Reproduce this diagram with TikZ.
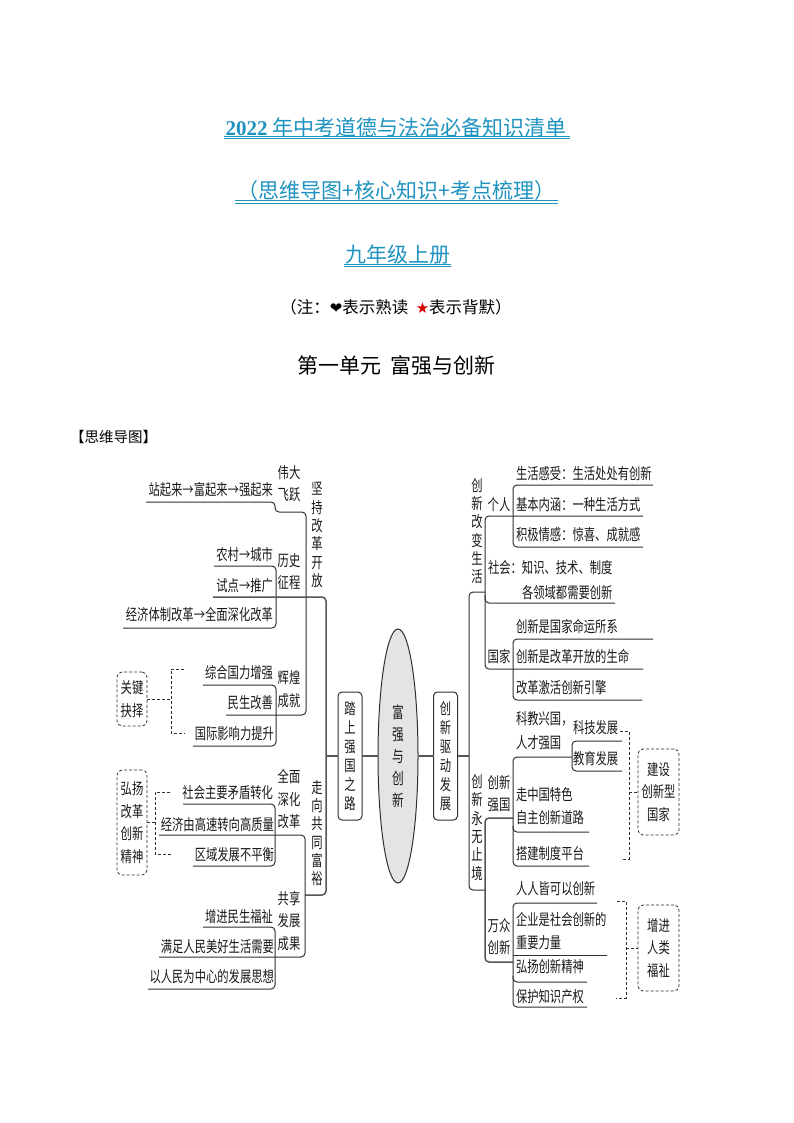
\documentclass[tikz,border=0pt]{standalone}
\usepackage{fontspec}
\usetikzlibrary{shapes.geometric}
\setmainfont{Liberation Serif}
\newfontfamily\cjk{Noto Sans CJK SC}
\newfontfamily\cjkn[FakeStretch=0.73]{Noto Sans CJK SC}
\newfontfamily\lat{Liberation Serif}
\newfontfamily\sym{DejaVu Sans}
\definecolor{titleblue}{HTML}{1F93BF}
\definecolor{lnc}{HTML}{303030}
\definecolor{trunk}{HTML}{555555}
\definecolor{ellfill}{HTML}{E4E4E4}
\tikzset{
  tx/.style={inner sep=0pt,outer sep=0pt,text=black!90},
  lf/.style={tx,font=\cjkn\fontsize{15.5}{16}\selectfont},
  lfr/.style={lf,anchor=east},
  lfl/.style={lf,anchor=west},
  stack/.style={tx,align=center,font=\cjkn\fontsize{15.5}{22.5}\selectfont},
  vert/.style={tx,align=center,font=\cjkn\fontsize{15.5}{18.3}\selectfont},
  heading/.style={inner sep=0pt,outer sep=0pt,text=titleblue,font=\cjk\fontsize{21}{24}\selectfont},
  ln/.style={draw=lnc,line width=1pt,rounded corners=4pt},
  tk/.style={draw=trunk,line width=1.5pt,rounded corners=4pt},
  dsh/.style={draw=lnc,line width=.8pt,dash pattern=on 3pt off 2pt},
  pill/.style={draw=lnc,line width=1pt,rounded corners=4pt,inner sep=0pt,outer sep=0pt,align=center,
    minimum width=24pt,minimum height=128pt,font=\cjkn\fontsize{15.5}{19}\selectfont,text=black!90},
  dbox/.style={dsh,rounded corners=5pt,inner sep=0pt,outer sep=0pt,align=center,text=black!90,
    font=\cjkn\fontsize{15.5}{22.5}\selectfont},
  ublue/.style={draw=titleblue,line width=.6pt},
}
\begin{document}
\begin{tikzpicture}[x=1pt,y=-1pt]
\useasboundingbox (0,0) rectangle (794,1123);
\fill[white] (0,0) rectangle (794,1123);

% headings
\node[heading] (t1) at (396,127) {{\lat\bfseries 2022} 年中考道德与法治必备知识清单};
\node[heading] (t2) at (396.5,191) {（思维导图+核心知识+考点梳理）};
\node[heading] (t3) at (397.5,255) {九年级上册};
\draw[ublue] (224,136.6) -- (570,136.6); \draw[ublue] (224,138.8) -- (570,138.8);
\draw[ublue] (235,200.8) -- (558,200.8); \draw[ublue] (235,203) -- (558,203);
\draw[ublue] (344,264.4) -- (451,264.4); \draw[ublue] (344,266.6) -- (451,266.6);
\node[inner sep=0pt,font=\cjk\fontsize{16.5}{18}\selectfont] (note) at (396,307)
  {（注：{\sym\fontsize{15}{18}\selectfont ❤}表示熟读\ \ {\sym\color{red!85!black}\fontsize{15}{18}\selectfont ★}表示背默）};
\node[inner sep=0pt,font=\cjk\fontsize{21}{24}\selectfont] (unit) at (396.5,365) {第一单元\ \ 富强与创新};
\node[inner sep=0pt,anchor=west,font=\cjk\fontsize{14.5}{16}\selectfont] (sw) at (70,437) {【思维导图】};

% centre
\node[ellipse,draw=lnc,line width=1pt,fill=ellfill,minimum width=40pt,minimum height=254pt,inner sep=0pt,
  align=center,font=\cjkn\fontsize{16}{22}\selectfont,text=black!90] (core) at (398,756) {富\\强\\与\\创\\新};
\node[pill] (road) at (350,756) {踏\\上\\强\\国\\之\\路};
\node[pill] (drive) at (445.5,756) {创\\新\\驱\\动\\发\\展};
\draw[tk] (road) -- (core);
\draw[tk] (core) -- (drive);

% dashed boxes
\node[dbox,minimum width=30pt,minimum height=54pt] (gj) at (132,699) {关键\\抉择};
\node[dbox,minimum width=30pt,minimum height=105pt] (hy) at (132,822.5) {弘扬\\改革\\创新\\精神};
\node[dbox,minimum width=41pt,minimum height=86pt] (js) at (658.5,792) {建设\\创新型\\国家};
\node[dbox,minimum width=41pt,minimum height=86pt] (zj) at (658.5,948) {增进\\人类\\福祉};

% left labels
\node[vert] (v1) at (317,535) {坚\\持\\改\\革\\开\\放};
\node[vert] (v2) at (317,833) {走\\向\\共\\同\\富\\裕};
\node[stack] (s1) at (289,483.5) {伟大\\飞跃};
\node[stack] (s2) at (289,571.5) {历史\\征程};
\node[stack] (s3) at (289,689) {辉煌\\成就};
\node[stack] (s4) at (289,799.5) {全面\\深化\\改革};
\node[stack] (s5) at (289,921) {共享\\发展\\成果};
\node[lfr] (a) at (273,490) {站起来→富起来→强起来};
\node[lfr] (b) at (273,555) {农村→城市};
\node[lfr] (c) at (273,586) {试点→推广};
\node[lfr] (d) at (273,615) {经济体制改革→全面深化改革};
\node[lfr] (e) at (273,673) {综合国力增强};
\node[lfr] (f) at (273,703) {民生改善};
\node[lfr] (g) at (274,734) {国际影响力提升};
\node[lfr] (h) at (273,793) {社会主要矛盾转化};
\node[lfr] (i) at (274,825) {经济由高速转向高质量};
\node[lfr] (j) at (274,855) {区域发展不平衡};
\node[lfr] (k) at (273,917) {增进民生福祉};
\node[lfr] (l) at (274,947) {满足人民美好生活需要};
\node[lfr] (m) at (274,977) {以人民为中心的发展思想};

% right labels
\node[vert] (v3) at (477,531) {创\\新\\改\\变\\生\\活};
\node[vert] (v4) at (477,827.5) {创\\新\\永\\无\\止\\境};
\node[lf] (p1) at (499,505) {个人};
\node[lf] (p2) at (499,657) {国家};
\node[stack] (p3) at (499,793.5) {创新\\强国};
\node[stack] (p4) at (499,936.5) {万众\\创新};
\node[lfl] (n1) at (516,474) {生活感受：生活处处有创新};
\node[lfl] (n2) at (516,505) {基本内涵：一种生活方式};
\node[lfl] (n3) at (516,535) {积极情感：惊喜、成就感};
\node[lfl] (n4) at (488,568) {社会：知识、技术、制度};
\node[lfl] (n5) at (522,593) {各领域都需要创新};
\node[lfl] (n6) at (516,627) {创新是国家命运所系};
\node[lfl] (n7) at (516,657) {创新是改革开放的生命};
\node[lfl] (n8) at (516,688) {改革激活创新引擎};
\node[lfl] (n9) at (516,719) {科教兴国，};
\node[lfl] (n10) at (516,743) {人才强国};
\node[lfl] (n11) at (573,728) {科技发展};
\node[lfl] (n12) at (573,759) {教育发展};
\node[lfl] (n13) at (516,795) {走中国特色};
\node[lfl] (n14) at (516,818) {自主创新道路};
\node[lfl] (n15) at (516,854) {搭建制度平台};
\node[lfl] (n16) at (516,889) {人人皆可以创新};
\node[lfl] (n17) at (516,920) {企业是社会创新的};
\node[lfl] (n18) at (516,943) {重要力量};
\node[lfl] (n19) at (516,967) {弘扬创新精神};
\node[lfl] (n20) at (516,997) {保护知识产权};

% left connectors
\coordinate (a1) at (146,502); \coordinate (a2) at (275,502); \coordinate (a3) at (275,512);
\coordinate (a4) at (306,512); \coordinate (a5) at (306,715); \coordinate (a6) at (226,715);
\draw[ln] (a1) -- (a2) -- (a3) -- (a4) -- (a5) -- (a6);
\coordinate (b1) at (214,566); \coordinate (b2) at (276,566); \coordinate (b3) at (276,628); \coordinate (b4) at (123,628);
\draw[ln] (b1) -- (b2) -- (b3) -- (b4);
\coordinate (c1) at (203,685); \coordinate (c2) at (276,685); \coordinate (c3) at (276,746); \coordinate (c4) at (193,746);
\draw[ln] (c1) -- (c2) -- (c3) -- (c4);
\coordinate (t1a) at (213,597); \coordinate (t1b) at (326,597); \coordinate (t1c) at (326,895); \coordinate (t1d) at (305,895);
\draw[tk] (t1a) -- (t1b) -- (t1c) -- (t1d);
\coordinate (tj) at (326,756);
\draw[tk] (tj) -- (road);
\coordinate (d1) at (159,835); \coordinate (d2) at (305,835); \coordinate (d3) at (305,957); \coordinate (d4) at (159,957);
\draw[ln] (d1) -- (d2) -- (d3) -- (d4);
\coordinate (e1) at (183,804); \coordinate (e2) at (275,804); \coordinate (e3) at (275,866); \coordinate (e4) at (193,866);
\draw[ln] (e1) -- (e2) -- (e3) -- (e4);
\coordinate (f1) at (203,927); \coordinate (f2) at (275,927); \coordinate (f3) at (275,989); \coordinate (f4) at (148,989);
\draw[ln] (f1) -- (f2) -- (f3) -- (f4);

% left dashed brackets
\coordinate (g1) at (184,669); \coordinate (g2) at (171,669); \coordinate (g3) at (171,733); \coordinate (g4) at (185,733); \coordinate (g5) at (171,699);
\draw[dsh] (g1) -- (g2) -- (g3) -- (g4);
\draw[dsh] (gj) -- (g5);
\coordinate (h1) at (170,792); \coordinate (h2) at (155,792); \coordinate (h3) at (155,854); \coordinate (h4) at (171,854); \coordinate (h5) at (155,822.5);
\draw[dsh] (h1) -- (h2) -- (h3) -- (h4);
\draw[dsh] (hy) -- (h5);

% right connectors
\coordinate (r1) at (485,592); \coordinate (r2) at (469,592); \coordinate (r3) at (469,890); \coordinate (r4) at (485,890); \coordinate (rj) at (469,756);
\draw[ln] (r1) -- (r2) -- (r3) -- (r4);
\draw[tk] (drive) -- (rj);
\coordinate (u1) at (643,516); \coordinate (u2) at (485,516); \coordinate (u3) at (485,669); \coordinate (u4) at (643,669);
\draw[ln] (u1) -- (u2) -- (u3) -- (u4);
\coordinate (u5) at (485,595); \coordinate (u6) at (485,603); \coordinate (u7) at (615,603);
\draw[ln] (u5) -- (u6) -- (u7);
\coordinate (w1) at (653,485); \coordinate (w2) at (513,485); \coordinate (w3) at (513,547); \coordinate (w4) at (643,547);
\draw[ln] (w1) -- (w2) -- (w3) -- (w4);
\coordinate (x1) at (653,639); \coordinate (x2) at (513,639); \coordinate (x3) at (513,700); \coordinate (x4) at (642,700);
\draw[ln] (x1) -- (x2) -- (x3) -- (x4);
\coordinate (y1) at (513,818); \coordinate (y2) at (485,818); \coordinate (y3) at (485,962); \coordinate (y4) at (513,962);
\draw[tk] (y1) -- (y2) -- (y3) -- (y4);
\coordinate (z1) at (572,757); \coordinate (z2) at (513,757); \coordinate (z3) at (513,866); \coordinate (z4) at (589,866);
\draw[ln] (z1) -- (z2) -- (z3) -- (z4);
\coordinate (z5) at (513,826); \coordinate (z6) at (513,832); \coordinate (z7) at (589,832);
\draw[ln] (z5) -- (z6) -- (z7);
\coordinate (q1) at (622,741); \coordinate (q2) at (572,741); \coordinate (q3) at (572,771); \coordinate (q4) at (622,771);
\draw[ln] (q1) -- (q2) -- (q3) -- (q4);
\coordinate (o1) at (597,903); \coordinate (o2) at (513,903); \coordinate (o3) at (513,1007); \coordinate (o4) at (587,1007);
\draw[ln] (o1) -- (o2) -- (o3) -- (o4);
\coordinate (o5) at (513,955); \coordinate (o6) at (607,955);
\draw[ln] (o5) -- (o6);
\coordinate (o7) at (513,976); \coordinate (o8) at (513,982); \coordinate (o9) at (587,982);
\draw[ln] (o7) -- (o8) -- (o9);

% right dashed brackets
\coordinate (k1) at (620,731); \coordinate (k2) at (629,731); \coordinate (k3) at (629,859); \coordinate (k4) at (621,859); \coordinate (k5) at (629,792);
\draw[dsh] (k1) -- (k2) -- (k3) -- (k4);
\draw[dsh] (k5) -- (js);
\coordinate (m1) at (617,901); \coordinate (m2) at (626,901); \coordinate (m3) at (626,998); \coordinate (m4) at (616,998); \coordinate (m5) at (626,948);
\draw[dsh] (m1) -- (m2) -- (m3) -- (m4);
\draw[dsh] (m5) -- (zj);
\end{tikzpicture}
\end{document}
